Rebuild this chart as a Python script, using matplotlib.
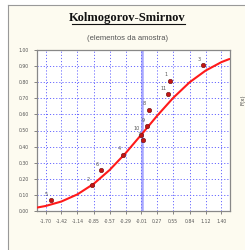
import matplotlib.pyplot as plt
from matplotlib.lines import Line2D
from matplotlib.patches import Rectangle

# amostra: rotulo, valor padronizado, frequencia acumulada
labels = ['1', '2', '3', '4', '5', '6', '7', '8', '9', '10', '11']
x_vals = [0.49, -0.88, 1.08, -0.33, -1.61, -0.72, 0.02, 0.12, 0.09, -0.02, 0.45]
y_vals = [0.81, 0.16, 0.906, 0.35, 0.069, 0.256, 0.44, 0.63, 0.53, 0.475, 0.725]

# curva normal teorica
curve_x = [-1.84, -1.70, -1.42, -1.14, -0.85, -0.57, -0.29, -0.01, 0.27, 0.55, 0.84, 1.12, 1.40, 1.54]
curve_y = [0.022, 0.031, 0.059, 0.103, 0.169, 0.255, 0.359, 0.475, 0.593, 0.703, 0.800, 0.872, 0.925, 0.944]

xticks = [-1.70, -1.42, -1.14, -0.85, -0.57, -0.29, -0.01, 0.27, 0.55, 0.84, 1.12, 1.40]
yticks = [0.0, 0.1, 0.2, 0.3, 0.4, 0.5, 0.6, 0.7, 0.8, 0.9, 1.0]

fig = plt.figure(figsize=(2.45, 2.5), dpi=100)
fig.patch.set_facecolor('white')
fig.patches.append(Rectangle((8/245, 0), 1, 1 - 5/250, transform=fig.transFigure,
                             facecolor='#fdfbf0', edgecolor='none', zorder=-10))
fig.lines.append(Line2D([8/245, 8/245], [0, 1 - 5/250], transform=fig.transFigure, color='#999999', lw=0.8))
fig.lines.append(Line2D([8/245, 1], [1 - 5/250, 1 - 5/250], transform=fig.transFigure, color='#999999', lw=0.8))

fig.text(0.52, 0.915, 'Kolmogorov-Smirnov', ha='center', va='baseline', fontsize=9,
         fontweight='bold', family='Liberation Serif', color='#111111')
fig.lines.append(Line2D([72/245, 185/245], [0.905, 0.905], transform=fig.transFigure, color='#111111', lw=0.8))
fig.text(0.52, 0.845, '(elementos da amostra)', ha='center', va='center', fontsize=5.5,
         family='Liberation Sans', color='#555555')
fig.text(0.99, 0.6, 'F(x)', rotation=90, ha='center', va='center', fontsize=4, color='#444444')

ax = fig.add_axes([37/245, 1 - 211/250, 193/245, 161/250], zorder=2)
ax.set_facecolor('white')
ax.set_xlim(-1.85, 1.55)
ax.set_ylim(0, 1.0)
ax.set_xticks(xticks)
ax.set_xticklabels(['%.2f' % t for t in xticks])
ax.set_yticks(yticks)
ax.set_yticklabels(['%.2f' % t for t in yticks])
ax.tick_params(labelsize=3.3, length=2, width=0.5, colors='#555555', pad=4)
ax.grid(True, color='#6a6aff', linestyle=(0, (1.2, 2)), lw=0.7)
ax.axvline(0, color='#a8a8ff', lw=1.8, zorder=1)
for s in ax.spines.values():
    s.set_color('#888888')
    s.set_linewidth(0.9)

ax.plot(curve_x, curve_y, color='#ff1a1a', lw=1.5, zorder=3, solid_capstyle='round')
ax.plot(x_vals, y_vals, 'o', color='#c41414', mec='#661111', mew=0.4, ms=3.2, zorder=4)
for lab, xv, yv in zip(labels, x_vals, y_vals):
    ax.annotate(lab, (xv, yv), xytext=(-3, 3), textcoords='offset points',
                fontsize=3.5, color='#555555', ha='center', zorder=5)

fig.savefig('out.png', dpi=100)
